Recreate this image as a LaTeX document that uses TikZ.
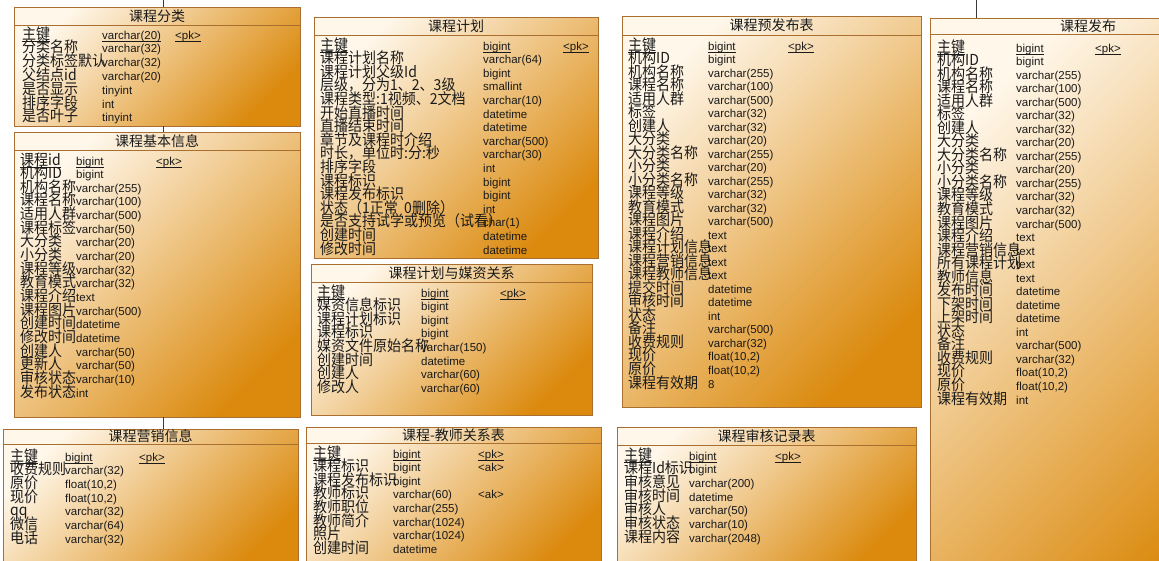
\documentclass[tikz,border=0pt]{standalone}
\usepackage{fontspec}
\usepackage{graphicx}
\setmainfont{Liberation Sans}
\newfontfamily\cjk{Noto Sans CJK SC}
\definecolor{bordc}{HTML}{A86F30}
\definecolor{lightc}{HTML}{FFF7EA}
\definecolor{darkc}{HTML}{DB8A0E}
\definecolor{txtc}{HTML}{1A1A1A}
\definecolor{connc}{HTML}{3A3A3A}
\tikzset{
  tbox/.style={draw=bordc, line width=0.8pt, top color=lightc, bottom color=darkc, shading angle=45, inner sep=0pt, outer sep=0pt},
  hdr/.style={draw=bordc, line width=0.8pt},
  ttl/.style={inner sep=0pt, text=txtc, font=\cjk\fontsize{14}{14}\selectfont},
  nm/.style={anchor=base west, inner sep=0pt, text=txtc, font=\cjk\fontsize{14}{14}\selectfont},
  ty/.style={anchor=base west, inner sep=0pt, text=txtc, font=\fontsize{11.5}{12}\selectfont},
  ul/.style={draw=txtc, line width=0.7pt},
  conn/.style={draw=connc, line width=0.8pt}
}
\newcommand\mkbox[7]{%
  \node[tbox, minimum width={(#4-#2)*1pt}, minimum height={(#5-#3)*1pt}] (#1b) at ({(#2+#4)/2},{(#3+#5)/2}) {};
  \draw[hdr] (#1b.west |- 0,#6) -- (#1b.east |- 0,#6);
  \node[ttl] (#1h) at ({(#2+#4)/2},{(#3+#6)/2}) {#7};}
\newcommand\setT[6]{\def\tp{#1}\def\ca{#2}\def\cb{#3}\def\cc{#4}\def\ry{#5}\def\rs{#6}}
\newcommand\tr[4]{%
  \node[nm] (\tp n#1) at (\ca,{\ry+5+(#1-1)*\rs}) {\scalebox{1}[1.08]{#2}};
  \node[ty] (\tp t#1) at (\cb,{\ry+5+(#1-1)*\rs}) {#3};
  \if\relax\detokenize{#4}\relax\else\node[ty] (\tp p#1) at (\cc,{\ry+5+(#1-1)*\rs}) {#4};\fi}
% first (key) row, underlined
\newcommand\trU[3]{%
  \tr{1}{#1}{#2}{#3}%
  \draw[ul] ([yshift=-0.6pt]\tp n1.south west) -- ([yshift=-0.6pt]\tp n1.south east);
  \draw[ul] ([yshift=-2pt]\tp t1.base west) -- ([yshift=-2pt]\tp t1.base east);
  \draw[ul] ([yshift=-2pt]\tp p1.base west) -- ([yshift=-2pt]\tp p1.base east);}
\begin{document}
\begin{tikzpicture}[x=1pt,y=-1pt]
\useasboundingbox (0,0) rectangle (1159,560);
\clip (0,0) rectangle (1159,560);
% boxes
\mkbox{c1}{14}{7}{300}{126}{25}{课程分类}
\mkbox{c2}{14}{132}{300}{417}{150}{课程基本信息}
\mkbox{c3}{3}{429}{298}{570}{444}{课程营销信息}
\mkbox{c4}{314}{17}{598}{258}{35}{课程计划}
\mkbox{c5}{311}{264}{592}{415}{282}{课程计划与媒资关系}
\mkbox{c6}{306}{427}{601}{570}{443}{课程-教师关系表}
\mkbox{c7}{622}{16}{921}{407}{35}{课程预发布表}
\mkbox{c8}{617}{427}{916}{570}{445}{课程审核记录表}
\mkbox{c9}{930}{18}{1246}{620}{34}{课程发布}
% connectors
\coordinate (top1) at (163,0);
\coordinate (top9) at (976,0);
\draw[conn] (top1) -- (c1b.north -| top1);
\draw[conn] (c1b.south -| top1) -- (c2b.north -| top1);
\draw[conn] (c2b.south -| top1) -- (c3b.north -| top1);
\draw[conn] (top9) -- (c9b.north -| top9);
% T1
\setT{c1}{22}{102}{175}{34}{13.8}
\trU{主键}{varchar(20)}{<pk>}
\tr{2}{分类名称}{varchar(32)}{}
\tr{3}{分类标签默认}{varchar(32)}{}
\tr{4}{父结点id}{varchar(20)}{}
\tr{5}{是否显示}{tinyint}{}
\tr{6}{排序字段}{int}{}
\tr{7}{是否叶子}{tinyint}{}
% T2
\setT{c2}{20}{76}{156}{160}{13.65}
\trU{课程id}{bigint}{<pk>}
\tr{2}{机构ID}{bigint}{}
\tr{3}{机构名称}{varchar(255)}{}
\tr{4}{课程名称}{varchar(100)}{}
\tr{5}{适用人群}{varchar(500)}{}
\tr{6}{课程标签}{varchar(50)}{}
\tr{7}{大分类}{varchar(20)}{}
\tr{8}{小分类}{varchar(20)}{}
\tr{9}{课程等级}{varchar(32)}{}
\tr{10}{教育模式}{varchar(32)}{}
\tr{11}{课程介绍}{text}{}
\tr{12}{课程图片}{varchar(500)}{}
\tr{13}{创建时间}{datetime}{}
\tr{14}{修改时间}{datetime}{}
\tr{15}{创建人}{varchar(50)}{}
\tr{16}{更新人}{varchar(50)}{}
\tr{17}{审核状态}{varchar(10)}{}
\tr{18}{发布状态}{int}{}
% T3
\setT{c3}{10}{65}{139}{456}{13.7}
\trU{主键}{bigint}{<pk>}
\tr{2}{收费规则}{varchar(32)}{}
\tr{3}{原价}{float(10,2)}{}
\tr{4}{现价}{float(10,2)}{}
\tr{5}{qq}{varchar(32)}{}
\tr{6}{微信}{varchar(64)}{}
\tr{7}{电话}{varchar(32)}{}
% T4
\setT{c4}{320}{483}{563}{45}{13.6}
\trU{主键}{bigint}{<pk>}
\tr{2}{课程计划名称}{varchar(64)}{}
\tr{3}{课程计划父级Id}{bigint}{}
\tr{4}{层级，分为1、2、3级}{smallint}{}
\tr{5}{课程类型:1视频、2文档}{varchar(10)}{}
\tr{6}{开始直播时间}{datetime}{}
\tr{7}{直播结束时间}{datetime}{}
\tr{8}{章节及课程时介绍}{varchar(500)}{}
\tr{9}{时长，单位时:分:秒}{varchar(30)}{}
\tr{10}{排序字段}{int}{}
\tr{11}{课程标识}{bigint}{}
\tr{12}{课程发布标识}{bigint}{}
\tr{13}{状态（1正常\ \ 0删除）}{int}{}
\tr{14}{是否支持试学或预览（试看）}{char(1)}{}
\tr{15}{创建时间}{datetime}{}
\tr{16}{修改时间}{datetime}{}
% T5
\setT{c5}{317}{421}{500}{292}{13.6}
\trU{主键}{bigint}{<pk>}
\tr{2}{媒资信息标识}{bigint}{}
\tr{3}{课程计划标识}{bigint}{}
\tr{4}{课程标识}{bigint}{}
\tr{5}{媒资文件原始名称}{varchar(150)}{}
\tr{6}{创建时间}{datetime}{}
\tr{7}{创建人}{varchar(60)}{}
\tr{8}{修改人}{varchar(60)}{}
% T6
\setT{c6}{313}{393}{478}{453}{13.6}
\trU{主键}{bigint}{<pk>}
\tr{2}{课程标识}{bigint}{<ak>}
\tr{3}{课程发布标识}{bigint}{}
\tr{4}{教师标识}{varchar(60)}{<ak>}
\tr{5}{教师职位}{varchar(255)}{}
\tr{6}{教师简介}{varchar(1024)}{}
\tr{7}{照片}{varchar(1024)}{}
\tr{8}{创建时间}{datetime}{}
% T7
\setT{c7}{628}{708}{788}{45}{13.52}
\trU{主键}{bigint}{<pk>}
\tr{2}{机构ID}{bigint}{}
\tr{3}{机构名称}{varchar(255)}{}
\tr{4}{课程名称}{varchar(100)}{}
\tr{5}{适用人群}{varchar(500)}{}
\tr{6}{标签}{varchar(32)}{}
\tr{7}{创建人}{varchar(32)}{}
\tr{8}{大分类}{varchar(20)}{}
\tr{9}{大分类名称}{varchar(255)}{}
\tr{10}{小分类}{varchar(20)}{}
\tr{11}{小分类名称}{varchar(255)}{}
\tr{12}{课程等级}{varchar(32)}{}
\tr{13}{教育模式}{varchar(32)}{}
\tr{14}{课程图片}{varchar(500)}{}
\tr{15}{课程介绍}{text}{}
\tr{16}{课程计划信息}{text}{}
\tr{17}{课程营销信息}{text}{}
\tr{18}{课程教师信息}{text}{}
\tr{19}{提交时间}{datetime}{}
\tr{20}{审核时间}{datetime}{}
\tr{21}{状态}{int}{}
\tr{22}{备注}{varchar(500)}{}
\tr{23}{收费规则}{varchar(32)}{}
\tr{24}{现价}{float(10,2)}{}
\tr{25}{原价}{float(10,2)}{}
\tr{26}{课程有效期}{8}{}
% T8
\setT{c8}{624}{689}{775}{455}{13.67}
\trU{主键}{bigint}{<pk>}
\tr{2}{课程Id标识}{bigint}{}
\tr{3}{审核意见}{varchar(200)}{}
\tr{4}{审核时间}{datetime}{}
\tr{5}{审核人}{varchar(50)}{}
\tr{6}{审核状态}{varchar(10)}{}
\tr{7}{课程内容}{varchar(2048)}{}
% T9
\setT{c9}{937}{1016}{1095}{47}{13.54}
\trU{主键}{bigint}{<pk>}
\tr{2}{机构ID}{bigint}{}
\tr{3}{机构名称}{varchar(255)}{}
\tr{4}{课程名称}{varchar(100)}{}
\tr{5}{适用人群}{varchar(500)}{}
\tr{6}{标签}{varchar(32)}{}
\tr{7}{创建人}{varchar(32)}{}
\tr{8}{大分类}{varchar(20)}{}
\tr{9}{大分类名称}{varchar(255)}{}
\tr{10}{小分类}{varchar(20)}{}
\tr{11}{小分类名称}{varchar(255)}{}
\tr{12}{课程等级}{varchar(32)}{}
\tr{13}{教育模式}{varchar(32)}{}
\tr{14}{课程图片}{varchar(500)}{}
\tr{15}{课程介绍}{text}{}
\tr{16}{课程营销信息}{text}{}
\tr{17}{所有课程计划}{text}{}
\tr{18}{教师信息}{text}{}
\tr{19}{发布时间}{datetime}{}
\tr{20}{下架时间}{datetime}{}
\tr{21}{上架时间}{datetime}{}
\tr{22}{状态}{int}{}
\tr{23}{备注}{varchar(500)}{}
\tr{24}{收费规则}{varchar(32)}{}
\tr{25}{现价}{float(10,2)}{}
\tr{26}{原价}{float(10,2)}{}
\tr{27}{课程有效期}{int}{}
\end{tikzpicture}
\end{document}
